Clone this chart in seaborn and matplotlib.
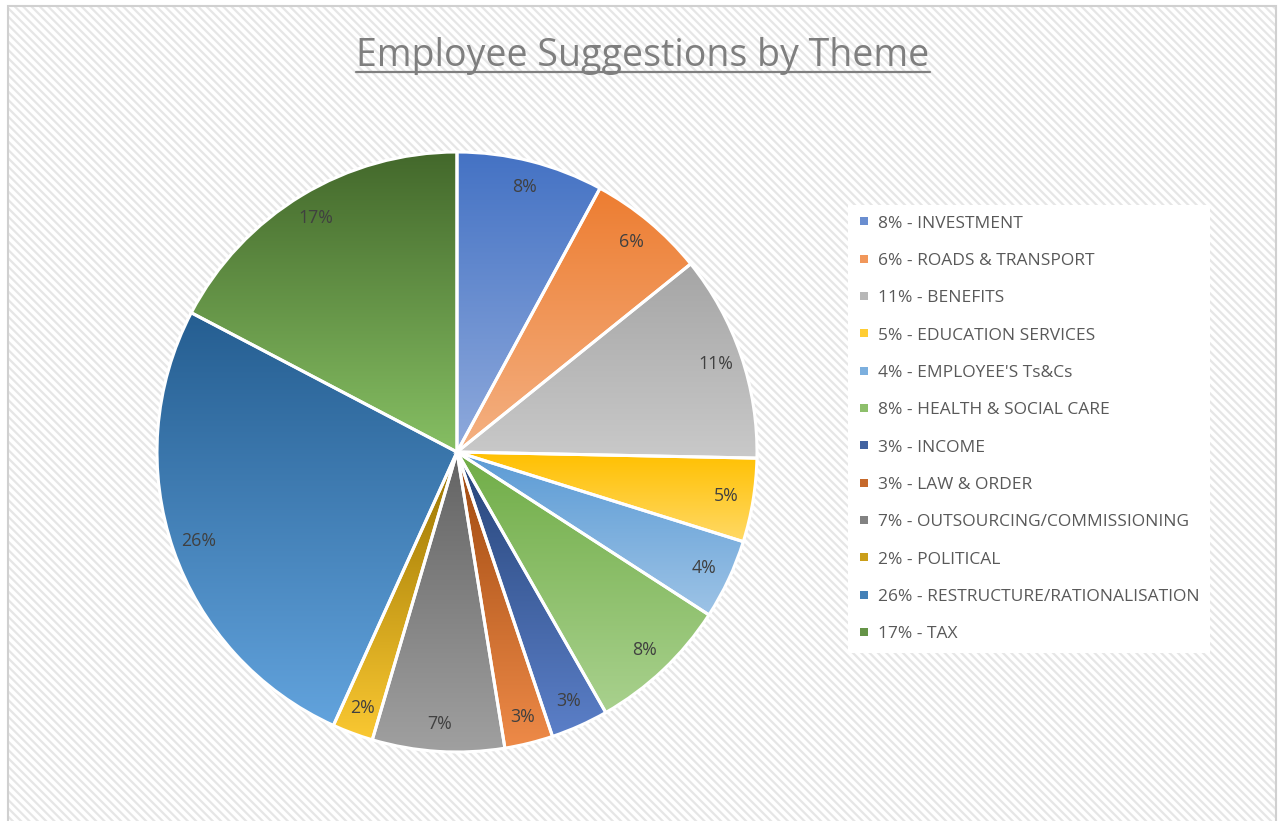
import numpy as np
import matplotlib
matplotlib.use("Agg")
import matplotlib.pyplot as plt
import seaborn as sns
from matplotlib.patches import Rectangle
from matplotlib.lines import Line2D

sns.set_theme(style="white")
plt.rcParams['font.family'] = ['Open Sans', 'DejaVu Sans']
plt.rcParams['hatch.linewidth'] = 1.6

themes = ["INVESTMENT", "ROADS & TRANSPORT", "BENEFITS", "EDUCATION SERVICES",
          "EMPLOYEE'S Ts&Cs", "HEALTH & SOCIAL CARE", "INCOME", "LAW & ORDER",
          "OUTSOURCING/COMMISSIONING", "POLITICAL", "RESTRUCTURE/RATIONALISATION", "TAX"]
shares = [7.9, 6.3, 11.1, 4.5, 4.3, 7.6, 3.1, 2.6, 7.1, 2.2, 25.9, 17.3]
pct_labels = ["8%", "6%", "11%", "5%", "4%", "8%", "3%", "3%", "7%", "2%", "26%", "17%"]

# top (dark) and bottom (light) colour of each slice gradient
top_cols = ["#4472C4", "#ED7D31", "#A5A5A5", "#FFC000", "#5B9BD5", "#70AD47",
            "#264478", "#9E480E", "#636363", "#997300", "#255E91", "#43682B"]
bot_cols = ["#8FAADC", "#F4B183", "#C9C9C9", "#FFD966", "#9DC3E6", "#A9D18E",
            "#5B7FC8", "#EE8A48", "#A0A0A0", "#FAC832", "#62A3DD", "#86BF63"]

fig = plt.figure(figsize=(12.79, 8.21), dpi=100)
fig.patch.set_facecolor("white")

W, H = 1279, 821
bg = Rectangle((8 / W, 0), (1276 - 8) / W, (821 - 6) / H, transform=fig.transFigure,
               facecolor="white", edgecolor="#e6e6e6", hatch="\\\\\\\\", linewidth=0, zorder=-2)
fig.patches.append(bg)
frame = Rectangle((8 / W, -0.01), (1276 - 8) / W, (821 - 6) / H + 0.01, transform=fig.transFigure,
                  fill=False, edgecolor="#d0d0d0", linewidth=1.5, zorder=-1)
fig.patches.append(frame)

# pie centre (457, 452) px, radius 300 px
ax = fig.add_axes([154 / W, (821 - 755) / H, 606 / W, 606 / H])
ax.set_facecolor("none")
wedges, texts, autotexts = ax.pie(
    shares, startangle=90, counterclock=False, radius=1,
    labels=None, autopct="%1.0f%%", pctdistance=0.91,
    wedgeprops=dict(edgecolor="white", linewidth=2.2),
    textprops=dict(color="#404040", fontsize=12.8))
for t, lab in zip(autotexts, pct_labels):
    t.set_text(lab)
    t.set_zorder(5)

for w, c1, c2 in zip(wedges, top_cols, bot_cols):
    w.set_facecolor("none")
    ext = w.get_path().get_extents()
    grad = np.array(sns.blend_palette([c1, c2], 256))[:, :3]
    img = grad[:, None, :].repeat(2, axis=1)
    im = ax.imshow(img, extent=[ext.x0, ext.x1, ext.y0, ext.y1], origin="upper",
                   aspect="auto", zorder=1, interpolation="bilinear")
    im.set_clip_path(w)
    w.set_zorder(2)

ax.set_xlim(-1.01, 1.01)
ax.set_ylim(-1.01, 1.01)
ax.axis("off")

handles = [Line2D([0], [0], marker="s", linestyle="none", markersize=5.5,
                  markerfacecolor=sns.blend_palette([c1, c2], 3)[1], markeredgewidth=0)
           for c1, c2 in zip(top_cols, bot_cols)]
leg_labels = [f"{p} - {t}" for p, t in zip(pct_labels, themes)]
leg = fig.legend(handles, leg_labels, loc="upper left",
                 bbox_to_anchor=(848 / W, 1 - 205 / H), frameon=True,
                 facecolor="white", edgecolor="none", fancybox=False, framealpha=1,
                 fontsize=12.5, labelspacing=1.22, handlelength=0.6, handletextpad=0.5,
                 borderpad=0.6, borderaxespad=0)
for t in leg.get_texts():
    t.set_color("#595959")

title = fig.text(643 / W, 1 - 56 / H, "Employee Suggestions by Theme", ha="center", va="center",
                 fontsize=27, color="#7f7f7f")
fig.canvas.draw()
bb = title.get_window_extent().transformed(fig.transFigure.inverted())
fig.add_artist(Line2D([bb.x0, bb.x1], [1 - 72.5 / H, 1 - 72.5 / H], transform=fig.transFigure,
                      color="#7f7f7f", linewidth=1.6))

fig.savefig("out.png", dpi=100)
